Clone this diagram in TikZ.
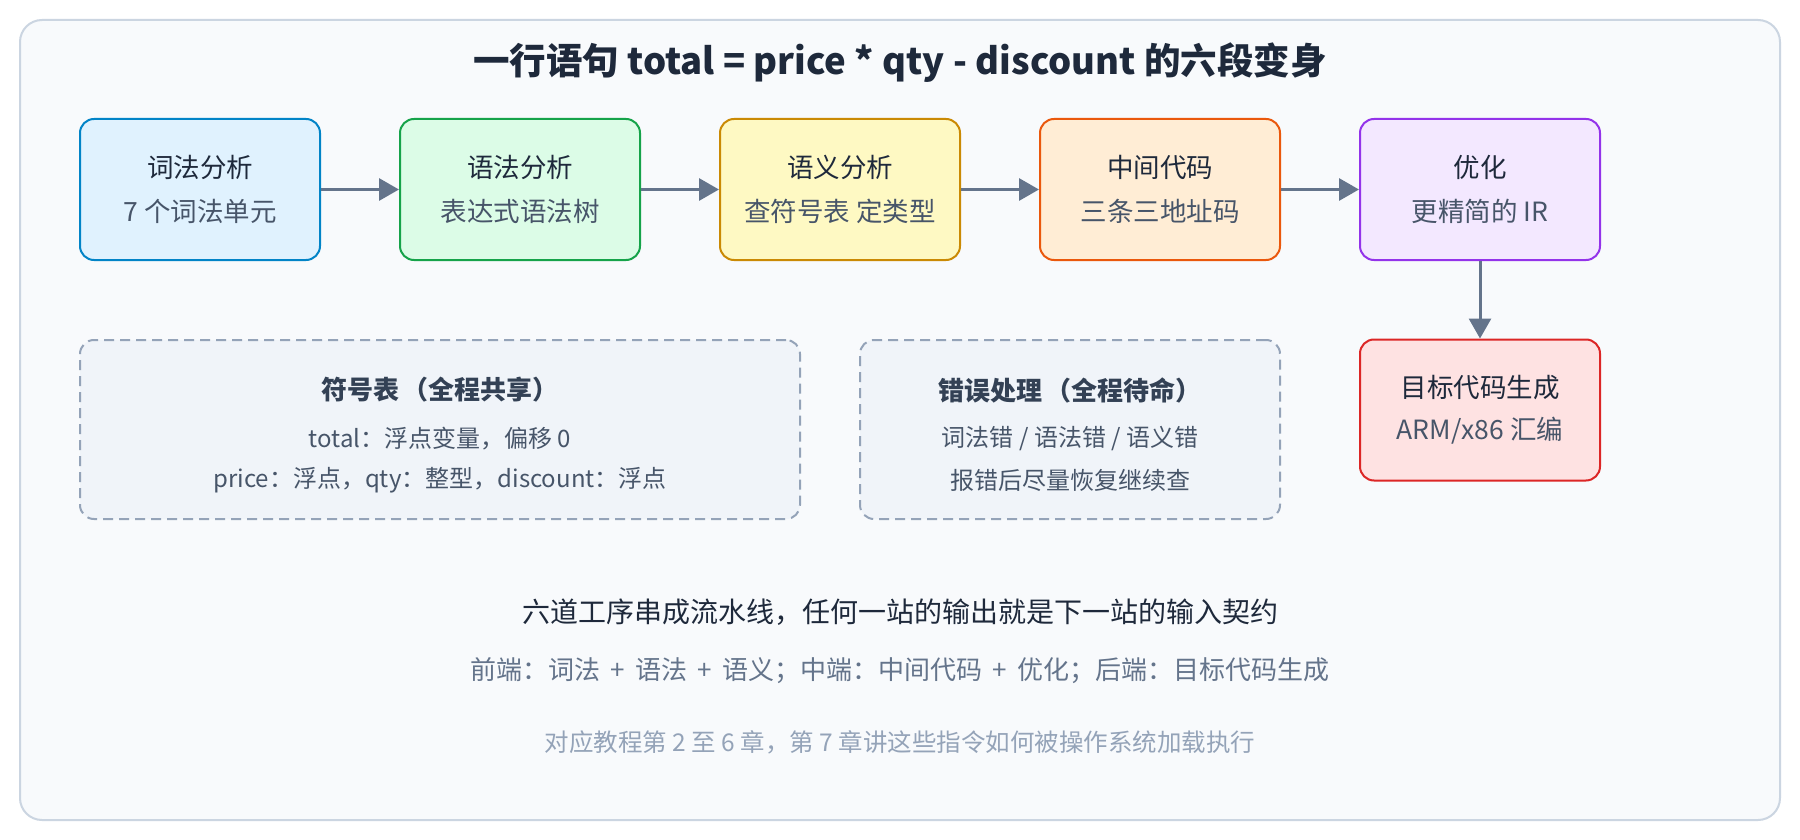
\documentclass[tikz,border=0pt]{standalone}
\usepackage{fontspec}
\setmainfont{Noto Sans CJK SC}
\usetikzlibrary{arrows.meta}
\definecolor{frameFill}{HTML}{F8FAFC}
\definecolor{frameLine}{HTML}{CBD5E1}
\definecolor{dashFill}{HTML}{F0F4F9}
\definecolor{dashLine}{HTML}{94A3B8}
\definecolor{arrowCol}{HTML}{64748B}
\definecolor{txtDark}{HTML}{1E293B}
\definecolor{txtMid}{HTML}{475569}
\definecolor{txtHead}{HTML}{334155}
\definecolor{txtSoft}{HTML}{64748B}
\definecolor{txtFaint}{HTML}{94A3B8}
\definecolor{fA}{HTML}{E0F2FE}\definecolor{dA}{HTML}{0284C7}
\definecolor{fB}{HTML}{DCFCE7}\definecolor{dB}{HTML}{16A34A}
\definecolor{fC}{HTML}{FEF9C3}\definecolor{dC}{HTML}{CA8A04}
\definecolor{fD}{HTML}{FFEDD5}\definecolor{dD}{HTML}{EA580C}
\definecolor{fE}{HTML}{F3E8FF}\definecolor{dE}{HTML}{9333EA}
\definecolor{fF}{HTML}{FEE2E2}\definecolor{dF}{HTML}{DC2626}
\newcommand{\plusgap}{\hspace{0.4em}+\hspace{0.4em}}
\newcommand{\lpar}{\hspace{0.15em}（}
\newcommand{\rpar}{）\hspace{0.15em}}
\tikzset{
  stagebox/.style={draw, line width=2pt, rounded corners=14pt, minimum width=240pt, minimum height=141pt, inner sep=0pt},
  sharedbox/.style={draw=dashLine, fill=dashFill, line width=2pt, dash pattern=on 10pt off 6pt, rounded corners=14pt, inner sep=0pt, minimum height=179pt},
  boxtitle/.style={inner sep=0pt, text=txtDark, font=\fontsize{26.5}{30}\selectfont},
  boxsub/.style={inner sep=0pt, text=txtMid, font=\fontsize{26.5}{30}\selectfont},
  sharedtitle/.style={inner sep=0pt, text=txtHead, font=\fontsize{26}{30}\selectfont\bfseries},
  sharedline/.style={inner sep=0pt, text=txtMid, font=\fontsize{24}{30}\selectfont},
  flow/.style={draw=arrowCol, line width=3pt, -{Triangle[length=20pt,width=22pt]}, shorten >=0pt}
}
\begin{document}
\begin{tikzpicture}[x=1pt,y=-1pt]
\useasboundingbox (0,0) rectangle (1800,840);
\fill[white] (0,0) rectangle (1800,840);
\draw[draw=frameLine, fill=frameFill, line width=2pt, rounded corners=22pt] (20,20) rectangle (1780,820);

\node[inner sep=0pt, text=txtDark, font=\fontsize{36.5}{42}\selectfont\bfseries] (title) at (900,63) {一行语句 total = price * qty - discount 的六段变身};

% stages
\node[stagebox, fill=fA, draw=dA] (s1) at (200,189.5) {};
\node[stagebox, fill=fB, draw=dB] (s2) at (520,189.5) {};
\node[stagebox, fill=fC, draw=dC] (s3) at (840,189.5) {};
\node[stagebox, fill=fD, draw=dD] (s4) at (1160,189.5) {};
\node[stagebox, fill=fE, draw=dE] (s5) at (1480,189.5) {};
\node[stagebox, fill=fF, draw=dF] (s6) at (1480,410) {};

\node[boxtitle] (t1) at (200,167) {词法分析};
\node[boxsub] (u1) at (200,211) {7 个词法单元};
\node[boxtitle] (t2) at (520,167) {语法分析};
\node[boxsub] (u2) at (520,211) {表达式语法树};
\node[boxtitle] (t3) at (840,167) {语义分析};
\node[boxsub] (u3) at (840,211) {查符号表 定类型};
\node[boxtitle] (t4) at (1160,167) {中间代码};
\node[boxsub] (u4) at (1160,211) {三条三地址码};
\node[boxtitle] (t5) at (1480,167) {优化};
\node[boxsub] (u5) at (1480,211) {更精简的 IR};
\node[boxtitle] (t6) at (1480,388) {目标代码生成};
\node[boxsub] (u6) at (1480,431) {ARM/x86 汇编};

\draw[flow] (s1.east) -- (s2.west);
\draw[flow] (s2.east) -- (s3.west);
\draw[flow] (s3.east) -- (s4.west);
\draw[flow] (s4.east) -- (s5.west);
\draw[flow] (s5.south) -- (s6.north);

% shared boxes
\node[sharedbox, minimum width=720pt] (sym) at (440,429.5) {};
\node[sharedbox, minimum width=420pt] (err) at (1070,429.5) {};
\node[sharedtitle] (symT) at (440,390) {符号表\lpar 全程共享\rpar};
\node[sharedline] (symA) at (440,439) {total：浮点变量，偏移 0};
\node[sharedline] (symB) at (440,480) {price：浮点，qty：整型，discount：浮点};
\node[sharedtitle] (errT) at (1070,390) {错误处理\lpar 全程待命\rpar};
\node[sharedline] (errA) at (1070,439) {词法错 / 语法错 / 语义错};
\node[sharedline] (errB) at (1070,480) {报错后尽量恢复继续查};

% bottom notes
\node[inner sep=0pt, text=txtDark, font=\fontsize{28}{32}\selectfont] (n1) at (900,612) {六道工序串成流水线，任何一站的输出就是下一站的输入契约};
\node[inner sep=0pt, text=txtSoft, font=\fontsize{26}{30}\selectfont] (n2) at (900,671) {前端：词法\plusgap 语法\plusgap 语义；中端：中间代码\plusgap 优化；后端：目标代码生成};
\node[inner sep=0pt, text=txtFaint, font=\fontsize{24.5}{28}\selectfont] (n3) at (900,742) {对应教程第 2 至 6 章，第 7 章讲这些指令如何被操作系统加载执行};
\end{tikzpicture}
\end{document}
